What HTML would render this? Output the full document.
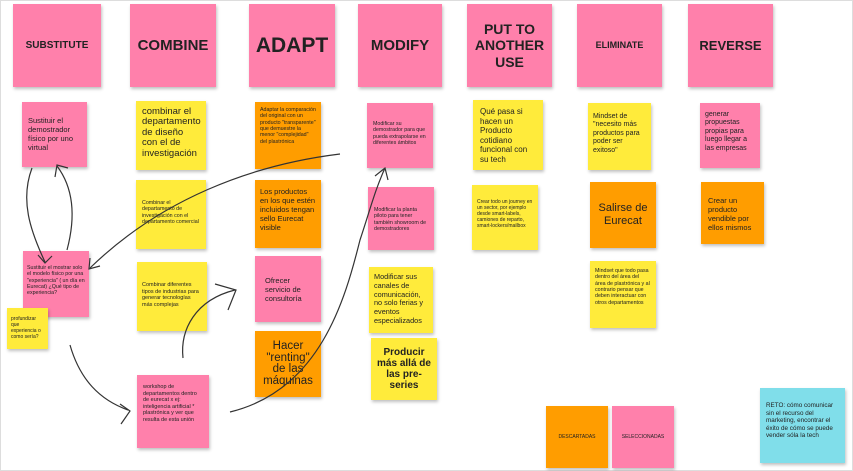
<!DOCTYPE html>
<html><head><meta charset="utf-8"><style>
body{margin:0;width:853px;height:471px;background:#fff;position:relative;overflow:hidden;font-family:"Liberation Sans","DejaVu Sans",sans-serif;}
.n{position:absolute;box-sizing:border-box;box-shadow:1px 2px 3px rgba(0,0,0,.25);color:#222;padding:6px;line-height:1.2;overflow:hidden}
.p{background:#ff80ab}.y{background:#ffeb3b}.o{background:#ff9d00}.c{background:#80deea}
.h{display:flex;align-items:center;justify-content:center;text-align:center;font-weight:bold;color:#222;padding:2px}
.cc{display:flex;align-items:center;justify-content:center;text-align:center}
.frame{position:absolute;left:0;top:0;width:851px;height:469px;border:1px solid #ddd}
</style></head><body>
<div class="frame"></div>
<div class="n p h" style="left:13px;top:4px;width:88px;height:83px;font-size:10px">SUBSTITUTE</div>
<div class="n p h" style="left:130px;top:4px;width:86px;height:83px;font-size:15px">COMBINE</div>
<div class="n p h" style="left:249px;top:4px;width:86px;height:83px;font-size:21px">ADAPT</div>
<div class="n p h" style="left:358px;top:4px;width:84px;height:83px;font-size:15px">MODIFY</div>
<div class="n p h" style="left:467px;top:4px;width:85px;height:83px;font-size:14px;line-height:1.15">PUT TO ANOTHER USE</div>
<div class="n p h" style="left:577px;top:4px;width:85px;height:83px;font-size:9px">ELIMINATE</div>
<div class="n p h" style="left:688px;top:4px;width:85px;height:83px;font-size:13px">REVERSE</div>

<div class="n p" style="left:22px;top:102px;width:65px;height:65px;font-size:7.5px;padding:14px 6px">Sustituir el demostrador físico por uno virtual</div>
<div class="n y" style="left:136px;top:101px;width:70px;height:69px;font-size:9.5px;line-height:1.1">combinar el departamento de diseño con el de investigación</div>
<div class="n o" style="left:255px;top:102px;width:66px;height:67px;font-size:5.3px;padding:5px">Adaptar la comparación del original con un producto "transparente" que demuestre la menor "complejidad" del plastrónica</div>
<div class="n p" style="left:367px;top:103px;width:66px;height:65px;font-size:5.3px;padding:18px 6px">Modificar su demostrador para que pueda extrapolarse en diferentes ámbitos</div>
<div class="n y" style="left:473px;top:100px;width:70px;height:70px;font-size:8px;padding:7px">Qué pasa si hacen un Producto cotidiano funcional con su tech</div>
<div class="n y" style="left:588px;top:103px;width:63px;height:67px;font-size:7px;padding:10px 5px">Mindset de "necesito más productos para poder ser exitoso"</div>
<div class="n p" style="left:700px;top:103px;width:60px;height:65px;font-size:7px;padding:8px 5px">generar propuestas propias para luego llegar a las empresas</div>

<div class="n y" style="left:136px;top:180px;width:70px;height:69px;font-size:5.3px;padding:20px 6px">Combinar el departamento de investigación con el departamento comercial</div>
<div class="n o" style="left:255px;top:180px;width:66px;height:68px;font-size:7.5px;padding:7px 5px">Los productos en los que estén incluidos tengan sello Eurecat visible</div>
<div class="n p" style="left:368px;top:187px;width:66px;height:63px;font-size:5.3px;padding:20px 6px">Modificar la planta piloto para tener también showroom de demostradores</div>
<div class="n y" style="left:472px;top:185px;width:66px;height:65px;font-size:5px;padding:14px 5px">Crear todo un journey en un sector, por ejemplo desde smart-labels, camiones de reparto, smart-lockers/mailbox</div>
<div class="n o cc" style="left:590px;top:182px;width:66px;height:66px;font-size:11px">Salirse de Eurecat</div>
<div class="n o" style="left:701px;top:182px;width:63px;height:62px;font-size:7.5px;padding:14px 7px">Crear un producto vendible por ellos mismos</div>

<div class="n p" style="left:23px;top:251px;width:66px;height:66px;font-size:5.3px;padding:14px 4px">Sustituir el mostrar solo el modelo físico por una "experiencia" ( un día en Eurecat) ¿Qué tipo de experiencia?</div>
<div class="n y" style="left:7px;top:308px;width:41px;height:41px;font-size:5px;padding:8px 4px">profundizar que experiencia o como sería?</div>
<div class="n y" style="left:137px;top:262px;width:70px;height:69px;font-size:5.5px;padding:20px 5px">Combinar diferentes tipos de industrias para generar tecnologías más complejas</div>
<div class="n p" style="left:255px;top:256px;width:66px;height:66px;font-size:7.5px;padding:20px 10px">Ofrecer servicio de consultoría</div>
<div class="n y" style="left:369px;top:267px;width:64px;height:66px;font-size:7.3px;padding:6px 5px">Modificar sus canales de comunicación, no solo ferias y eventos especializados</div>
<div class="n y" style="left:590px;top:261px;width:66px;height:67px;font-size:5.3px;padding:7px 5px">Mindset que todo pasa dentro del área del área de plastrónica y al contrario pensar que deben interactuar con otros departamentos</div>
<div class="n o cc" style="left:255px;top:331px;width:66px;height:66px;font-size:11.5px;line-height:1;font-weight:normal">Hacer "renting" de las máquinas</div>
<div class="n y cc" style="left:371px;top:338px;width:66px;height:62px;font-size:10px;font-weight:bold;line-height:1.1">Producir más allá de las pre-series</div>
<div class="n p" style="left:137px;top:375px;width:72px;height:73px;font-size:5.5px;padding:9px 6px">workshop de departamentos dentro de eurecat x ej: inteligencia artificial * plastrónica y ver que resulta de esta unión</div>

<div class="n o cc" style="left:546px;top:406px;width:62px;height:62px;font-size:5px">DESCARTADAS</div>
<div class="n p cc" style="left:612px;top:406px;width:62px;height:62px;font-size:5px">SELECCIONADAS</div>
<div class="n c" style="left:760px;top:388px;width:85px;height:75px;font-size:6.3px;padding:14px 6px">RETO: cómo comunicar sin el recurso del marketing, encontrar el éxito de cómo se puede vender sóla la tech</div>

<svg style="position:absolute;left:0;top:0" width="853" height="471" fill="none" stroke="#333" stroke-width="1.2">
<path d="M32 168 C20 200 30 230 45 262"/><path d="M38 255 L45 263 L52 256"/>
<path d="M67 250 C75 220 75 190 57 166"/><path d="M55 177 L57 165 L68 168"/>
<path d="M340 154 C250 165 160 200 90 268"/><path d="M90 258 L89 269 L100 266"/>
<path d="M70 345 C80 380 100 400 128 410"/><path d="M120 404 L130 411 L121 424"/>
<path d="M183 358 C180 330 195 300 235 290"/><path d="M215 284 L236 290 L228 310"/>
<path d="M230 412 C320 390 345 300 360 240 C370 210 375 190 385 168"/><path d="M375 176 L385 168 L388 180"/>
</svg>
</body></html>
